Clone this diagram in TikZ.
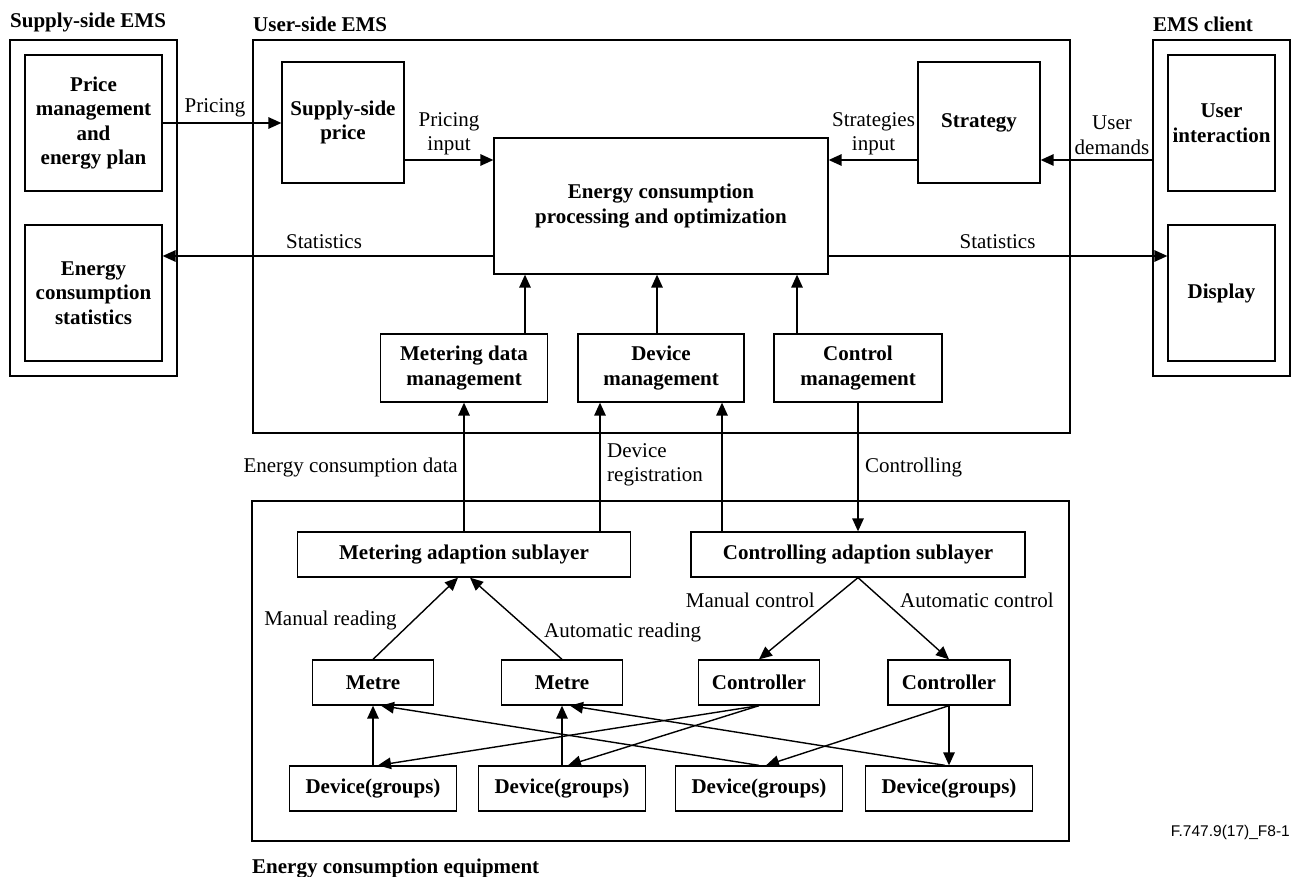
\documentclass[tikz,border=0pt]{standalone}
\usepackage{fontspec}
\setmainfont{Liberation Serif}
\newfontfamily\sansf{Liberation Sans}
\usetikzlibrary{arrows.meta}
\tikzset{
  txt/.style={font=\fontsize{21}{24.5}\selectfont, inner sep=0pt},
  bx/.style={draw, line width=1.3pt, font=\fontsize{21}{24.5}\selectfont\bfseries, align=center, inner sep=2pt},
  outer/.style={draw, line width=1.3pt},
  ttl/.style={font=\fontsize{21}{24.5}\selectfont\bfseries, inner sep=0pt, anchor=base west},
  lbl/.style={txt, align=center},
  arr/.style={line width=1.4pt, -{Triangle[length=13pt,width=11.5pt]}},
  ln/.style={line width=1.4pt}
}
\begin{document}
\begin{tikzpicture}[x=1pt,y=-1pt]
\useasboundingbox (0,0) rectangle (1293,877);
% outer frames
\node[outer, minimum width=167pt, minimum height=336pt] (supplyouter) at (93.5,208) {};
\node[outer, minimum width=817pt, minimum height=393pt] (userouter) at (661.5,236.5) {};
\node[outer, minimum width=137pt, minimum height=336pt] (clientouter) at (1221.5,208) {};
\node[outer, minimum width=817pt, minimum height=340pt] (equipouter) at (660.5,671) {};
% titles
\node[ttl] (t1) at (10,28) {Supply-side EMS};
\node[ttl] (t2) at (253,32) {User-side EMS};
\node[ttl] (t3) at (1153,32) {EMS client};
\node[ttl] (t4) at (252,873) {Energy consumption equipment};
% supply side
\node[bx, minimum width=137pt, minimum height=136pt] (price) at (93.5,123) {Price\\management\\and\\energy plan};
\node[bx, minimum width=137pt, minimum height=136pt] (stats) at (93.5,293) {Energy\\consumption\\statistics};
% client
\node[bx, minimum width=107pt, minimum height=136pt] (userint) at (1221.5,123) {User\\interaction};
\node[bx, minimum width=107pt, minimum height=136pt] (display) at (1221.5,293) {Display};
% user side
\node[bx, minimum width=122pt, minimum height=121pt] (supprice) at (343,122.5) {Supply-side\\price};
\node[bx, minimum width=122pt, minimum height=121pt] (strategy) at (979,122.5) {Strategy};
\node[bx, minimum width=334pt, minimum height=136pt] (main) at (661,206) {Energy consumption\\processing and optimization};
\node[bx, minimum width=167pt, minimum height=68pt] (mdm) at (464,368) {Metering data\\management};
\node[bx, minimum width=166pt, minimum height=68pt] (dm) at (661,368) {Device\\management};
\node[bx, minimum width=168pt, minimum height=68pt] (cm) at (858,368) {Control\\management};
% equipment
\node[bx, minimum width=333pt, minimum height=45pt] (mas) at (464,554.5) {Metering adaption sublayer};
\node[bx, minimum width=334pt, minimum height=45pt] (cas) at (858,554.5) {Controlling adaption sublayer};
\node[bx, minimum width=121pt, minimum height=45pt] (metre1) at (373,682.5) {Metre};
\node[bx, minimum width=121pt, minimum height=45pt] (metre2) at (562,682.5) {Metre};
\node[bx, minimum width=121pt, minimum height=45pt] (ctrl1) at (759,682.5) {Controller};
\node[bx, minimum width=122pt, minimum height=45pt] (ctrl2) at (949,682.5) {Controller};
\node[bx, minimum width=167pt, minimum height=45pt] (dg1) at (373,788.5) {Device(groups)};
\node[bx, minimum width=167pt, minimum height=45pt] (dg2) at (562,788.5) {Device(groups)};
\node[bx, minimum width=167pt, minimum height=45pt] (dg3) at (759,788.5) {Device(groups)};
\node[bx, minimum width=167pt, minimum height=45pt] (dg4) at (949,788.5) {Device(groups)};
% top connectors
\draw[arr] (price.east) -- (price.east -| supprice.west);
\draw[arr] ([yshift=-37.5pt]supprice.east) coordinate (pa) -- (pa -| main.west);
\draw[arr] ([yshift=-37.5pt]strategy.west) coordinate (sa) -- (sa -| main.east);
\draw[arr] ([yshift=48pt]clientouter.west) coordinate (ua) -- (ua -| strategy.east);
\draw[arr] ([yshift=-50pt]main.west) coordinate (sl) -- (sl -| stats.east);
\draw[arr] ([yshift=-50pt]main.east) coordinate (sr) -- (sr -| display.west);
\draw[arr] ([xshift=61pt]mdm.north) coordinate (m1) -- (m1 |- main.south);
\draw[arr] ([xshift=-4pt]dm.north) coordinate (m2) -- (m2 |- main.south);
\draw[arr] ([xshift=-61pt]cm.north) coordinate (m3) -- (m3 |- main.south);
% middle connectors
\draw[arr] (mas.north) -- (mas.north |- mdm.south);
\draw[arr] ([xshift=136pt]mas.north) coordinate (dr) -- (dr |- dm.south);
\draw[arr] ([xshift=-136pt]cas.north) coordinate (cd) -- (cd |- dm.south);
\draw[arr] (cm.south) -- (cm.south |- cas.north);
% lower connectors
\draw[arr] (metre1.north) -- ([xshift=-6pt]mas.south);
\draw[arr] (metre2.north) -- ([xshift=6pt]mas.south);
\draw[arr] (cas.south) -- (ctrl1.north);
\draw[arr] (cas.south) -- (ctrl2.north);
\draw[arr] (dg1.north) -- (metre1.south);
\draw[arr] (dg2.north) -- (metre2.south);
\draw[arr] (dg3.north) -- ([xshift=8pt]metre1.south);
\draw[arr] ([xshift=-4pt]dg4.north) -- ([xshift=8pt]metre2.south);
\draw[arr] (ctrl1.south) -- ([xshift=5pt]dg1.north);
\draw[arr] (ctrl1.south) -- ([xshift=6pt]dg2.north);
\draw[arr] (ctrl2.south) -- ([xshift=7pt]dg3.north);
\draw[arr] (ctrl2.south) -- (ctrl2.south |- dg4.north);
% labels
\node[lbl] (l1) at (215,108) {Pricing};
\node[lbl] (l2) at (449,134) {Pricing\\input};
\node[lbl] (l3) at (873.5,134) {Strategies\\input};
\node[lbl] (l4) at (1112,135) {User\\demands};
\node[lbl] (l5) at (324,242) {Statistics};
\node[lbl] (l6) at (997.5,242) {Statistics};
\node[txt, anchor=east] (l7) at (458,467) {Energy consumption data};
\node[txt, anchor=west, align=left] (l8) at (607,465) {Device\\registration};
\node[txt, anchor=west] (l9) at (865,467) {Controlling};
\node[txt] (l10) at (330.5,620) {Manual reading};
\node[txt, anchor=west] (l11) at (544,632) {Automatic reading};
\node[txt, anchor=east] (l12) at (815,600) {Manual control};
\node[txt, anchor=west] (l13) at (900,600) {Automatic control};
\node[font=\sansf\fontsize{15.5}{18}\selectfont, inner sep=0pt, anchor=east] (fig) at (1290,832) {F.747.9(17)\_F8-1};
\end{tikzpicture}
\end{document}
